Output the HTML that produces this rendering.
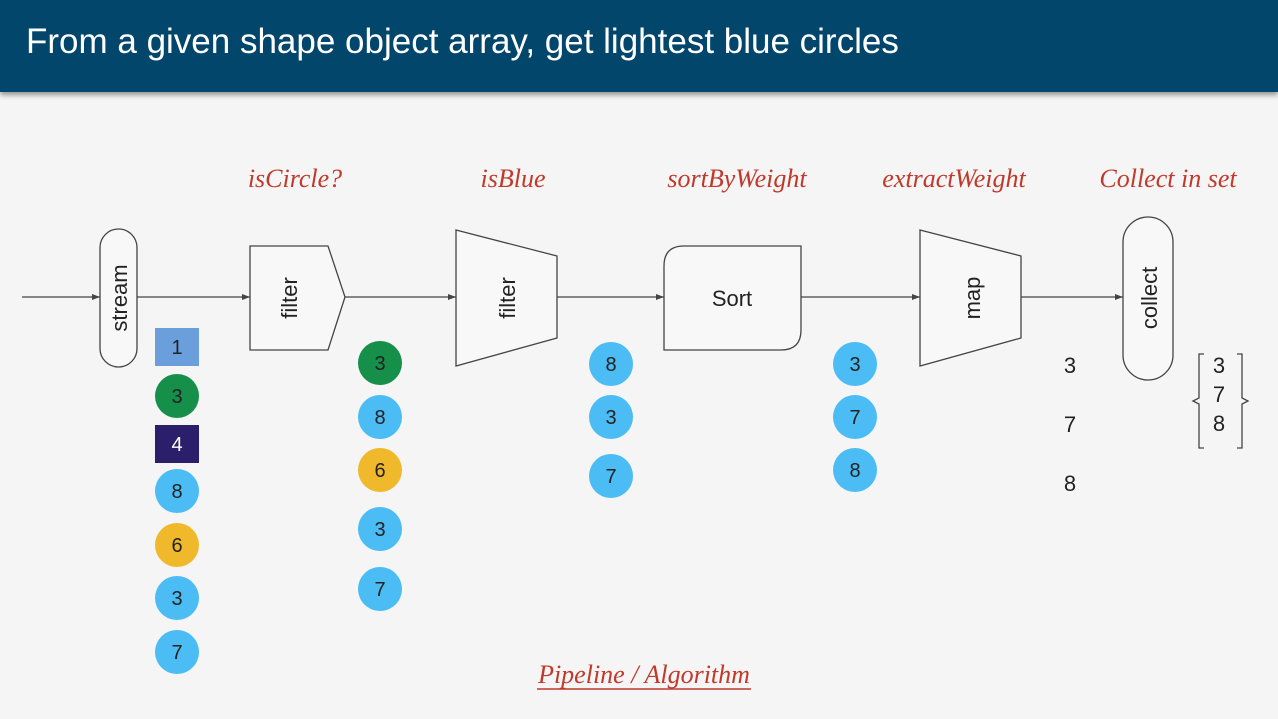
<!DOCTYPE html>
<html><head><style>
body{margin:0;width:1278px;height:719px;background:#f5f5f5;overflow:hidden;font-family:"Liberation Sans",sans-serif}
.hdr{position:absolute;left:0;top:0;width:1278px;height:92px;background:#03466c;box-shadow:0 3px 5px rgba(0,0,0,.4)}
.hdr span{position:absolute;left:26px;top:22px;color:#fff;font-size:35px}
</style></head><body>
<div class="hdr"><span>From a given shape object array, get lightest blue circles</span></div>
<svg width="1278" height="719" style="position:absolute;left:0;top:0">
<defs><marker id="a" markerWidth="8" markerHeight="8" refX="8" refY="4" orient="auto" markerUnits="userSpaceOnUse"><path d="M0,1 L8,4 L0,7z" fill="#444"/></marker></defs>
<g font-family="Liberation Serif,serif" font-style="italic" font-size="26" fill="#c0392b" text-anchor="middle">
<text x="295" y="187">isCircle?</text><text x="513" y="187">isBlue</text><text x="737" y="187">sortByWeight</text><text x="954" y="187">extractWeight</text><text x="1168" y="187">Collect in set</text>
<text x="644" y="683">Pipeline / Algorithm</text>
</g>
<line x1="537" y1="689" x2="751" y2="689" stroke="#c0392b" stroke-width="1.5"/>
<g stroke="#444" stroke-width="1.3" fill="none">
<line x1="22" y1="297" x2="100" y2="297" marker-end="url(#a)"/>
<line x1="137" y1="297" x2="250" y2="297" marker-end="url(#a)"/>
<line x1="345" y1="297" x2="456" y2="297" marker-end="url(#a)"/>
<line x1="557" y1="297" x2="664" y2="297" marker-end="url(#a)"/>
<line x1="801" y1="297" x2="920" y2="297" marker-end="url(#a)"/>
<line x1="1021" y1="297" x2="1123" y2="297" marker-end="url(#a)"/>
<rect x="100" y="229" width="37" height="138" rx="18.5" fill="#f8f8f8"/>
<path d="M250,246 L328,246 L345,297 L328,350 L250,350Z" fill="#f8f8f8"/>
<path d="M456,230 L557,256 L557,338 L456,366Z" fill="#f8f8f8"/>
<path d="M684,246 L801,246 L801,330 Q801,350 781,350 L664,350 L664,266 Q664,246 684,246Z" fill="#f8f8f8"/>
<path d="M920,230 L1021,256 L1021,338 L920,366Z" fill="#f8f8f8"/>
<rect x="1123" y="217" width="50" height="163" rx="25" fill="#f8f8f8"/>
<path d="M1204,354 L1199,354 L1199,398 L1193,401 L1199,404 L1199,448 L1204,448"/>
<path d="M1237,354 L1242,354 L1242,398 L1248,401 L1242,404 L1242,448 L1237,448"/>
</g>
<g font-size="22" fill="#222" text-anchor="middle">
<text transform="translate(127,298) rotate(-90)">stream</text>
<text transform="translate(297,298) rotate(-90)">filter</text>
<text transform="translate(515,298) rotate(-90)">filter</text>
<text x="732" y="306">Sort</text>
<text transform="translate(980,298) rotate(-90)">map</text>
<text transform="translate(1157,298) rotate(-90)">collect</text>
<text x="1070" y="373">3</text><text x="1070" y="432">7</text><text x="1070" y="491">8</text>
<text x="1219" y="373">3</text><text x="1219" y="402">7</text><text x="1219" y="431">8</text>
</g>
<g font-size="20" fill="#222" text-anchor="middle">
<rect x="155" y="328" width="44" height="38" fill="#6a9fdc"/><text x="177" y="354">1</text>
<circle cx="177" cy="396" r="22" fill="#168f4a"/><text x="177" y="403">3</text>
<rect x="155" y="425" width="44" height="38" fill="#2b1f6b"/><text x="177" y="451" fill="#fff">4</text>
<circle cx="177" cy="491" r="22" fill="#4bbcf4"/><text x="177" y="498">8</text>
<circle cx="177" cy="545" r="22" fill="#f0b92c"/><text x="177" y="552">6</text>
<circle cx="177" cy="598" r="22" fill="#4bbcf4"/><text x="177" y="605">3</text>
<circle cx="177" cy="652" r="22" fill="#4bbcf4"/><text x="177" y="659">7</text>
<circle cx="380" cy="363" r="22" fill="#168f4a"/><text x="380" y="370">3</text>
<circle cx="380" cy="417" r="22" fill="#4bbcf4"/><text x="380" y="424">8</text>
<circle cx="380" cy="470" r="22" fill="#f0b92c"/><text x="380" y="477">6</text>
<circle cx="380" cy="529" r="22" fill="#4bbcf4"/><text x="380" y="536">3</text>
<circle cx="380" cy="589" r="22" fill="#4bbcf4"/><text x="380" y="596">7</text>
<circle cx="611" cy="364" r="22" fill="#4bbcf4"/><text x="611" y="371">8</text>
<circle cx="611" cy="417" r="22" fill="#4bbcf4"/><text x="611" y="424">3</text>
<circle cx="611" cy="476" r="22" fill="#4bbcf4"/><text x="611" y="483">7</text>
<circle cx="855" cy="364" r="22" fill="#4bbcf4"/><text x="855" y="371">3</text>
<circle cx="855" cy="417" r="22" fill="#4bbcf4"/><text x="855" y="424">7</text>
<circle cx="855" cy="470" r="22" fill="#4bbcf4"/><text x="855" y="477">8</text>
</g>
</svg>
</body></html>
